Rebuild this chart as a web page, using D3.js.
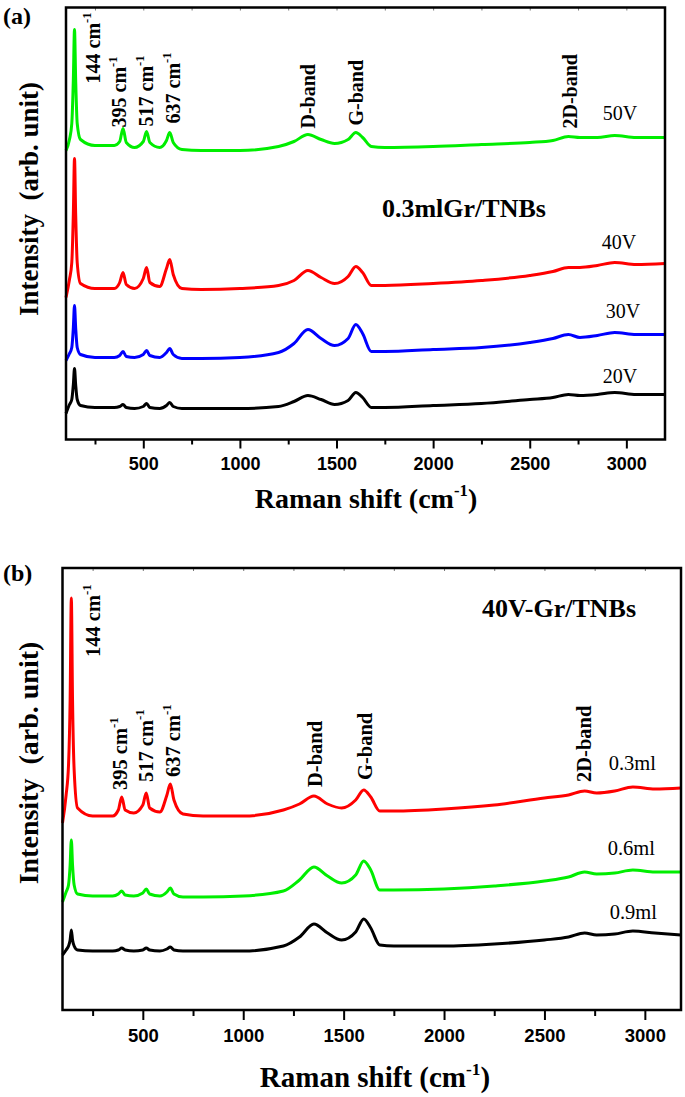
<!DOCTYPE html>
<html>
<head>
<meta charset="utf-8">
<script src="https://cdn.jsdelivr.net/npm/d3@7"></script>
<style>
  html, body { margin: 0; padding: 0; background: #fff; }
  svg { display: block; }
  .serif { font-family: "Liberation Serif", "Times New Roman", serif; }
  .sans { font-family: "Liberation Sans", Arial, sans-serif; font-weight: bold; }
</style>
</head>
<body>
<svg id="chart" width="685" height="1097"></svg>
<script>
// ---------------- DATA ----------------
// Panel (a): Raman shift grid (cm-1) and intensities (arb. unit) per anodizing voltage
const shiftA = [100, 118, 130, 138, 144, 150, 158, 175, 250, 350, 378, 395, 412, 455, 500, 517, 534, 585, 620, 637, 655, 700, 800, 1000, 1200, 1280, 1352, 1420, 1490, 1560, 1600, 1635, 1680, 1750, 2000, 2250, 2500, 2620, 2700, 2760, 2850, 2940, 3050, 3200];
const int50V = [289, 300, 316, 360, 410, 360, 316, 300, 294, 294, 298, 311, 297, 292, 298, 308, 297, 292, 299, 307, 297, 290, 289, 289, 293, 298, 305, 300, 296, 300, 307, 302, 293, 292, 293, 295, 297, 299, 303, 302, 302, 304, 302, 302];
const int40V = [142, 160, 177, 226, 281, 226, 177, 156, 151, 151, 157, 167, 155, 151, 161, 172, 157, 153, 171, 180, 165, 151, 150, 151, 154, 159, 169, 162, 156, 163, 173, 167, 154, 154, 156, 159, 164, 168, 172, 172, 174, 177, 175, 176];
const int30V = [79, 86, 92, 112, 134, 112, 92, 85, 82, 82, 84, 88, 83, 82, 85, 89, 84, 82, 87, 91, 85, 81, 81, 82, 87, 96, 110, 101, 94, 101, 115, 106, 88, 88, 90, 92, 97, 101, 105, 102, 104, 107, 105, 105];
const int20V = [26, 35, 40, 55, 71, 55, 40, 34, 32, 32, 33, 35, 32, 31, 33, 36, 32, 31, 34, 37, 33, 31, 31, 31, 33, 38, 44, 40, 35, 39, 47, 42, 32, 32, 34, 36, 40, 42, 45, 44, 45, 47, 45, 45];
const seriesNamesA = ["50V", "40V", "30V", "20V"];
const seriesColorsA = ["#00ee00", "#ff0000", "#0000ff", "#000000"];

// Panel (b): 40V samples with different graphene volumes
const shiftB = [100, 118, 130, 138, 144, 150, 158, 175, 250, 350, 378, 395, 412, 455, 500, 517, 534, 585, 620, 637, 655, 700, 800, 1000, 1200, 1280, 1352, 1420, 1490, 1560, 1600, 1635, 1680, 1750, 2000, 2250, 2500, 2620, 2700, 2760, 2850, 2940, 3050, 3180];
const int03ml = [187, 215, 245, 310, 412, 310, 240, 202, 194, 194, 200, 213, 200, 197, 205, 217, 202, 198, 215, 226, 210, 196, 194, 194, 200, 206, 214, 206, 202, 210, 220, 213, 199, 199, 201, 205, 212, 215, 219, 217, 219, 223, 221, 222];
const int06ml = [108, 118, 125, 145, 170, 145, 125, 116, 114, 114, 116, 119, 115, 114, 117, 121, 116, 114, 118, 122, 116, 113, 113, 114, 119, 130, 143, 134, 127, 135, 149, 140, 120, 120, 121, 124, 129, 133, 138, 136, 137, 140, 138, 138];
const int09ml = [55, 60, 64, 70, 80, 70, 64, 60, 59, 59, 60, 62, 60, 59, 60, 62, 60, 59, 61, 63, 60, 59, 59, 59, 64, 73, 86, 77, 70, 78, 91, 82, 65, 64, 64, 66, 70, 73, 77, 75, 76, 79, 77, 75];
const seriesNamesB = ["0.3ml", "0.6ml", "0.9ml"];
const seriesColorsB = ["#ff0000", "#00ee00", "#000000"];

// Axes
const xDomainA = [100, 3200];
const xDomainB = [100, 3180];
const yMaxA = 432;
const yMaxB = 442;
const majorTicks = [500, 1000, 1500, 2000, 2500, 3000];
const minorTicks = [250, 750, 1250, 1750, 2250, 2750];
const allTicks = [250, 500, 750, 1000, 1250, 1500, 1750, 2000, 2250, 2500, 2750, 3000];

// Annotations: [text, Raman shift, intensity] anchors
const peakLabelsA = [["144 cm", 276, 356], ["395 cm", 410, 312], ["517 cm", 550, 313], ["637 cm", 690, 316], ["D-band", 1388, 311, false], ["G-band", 1636, 314, false], ["2D-band", 2744, 311, false]];
const seriesLabelPosA = [[2878, 320], [2873, 191], [2894, 122], [2878, 57]];
const titleA = ["0.3mlGr/TNBs", 1735, 223];

const peakLabelsB = [["144 cm", 286, 353], ["395 cm", 420, 220], ["517 cm", 550, 228], ["637 cm", 684, 233], ["D-band", 1394, 223, false], ["G-band", 1642, 230, false], ["2D-band", 2730, 228, false]];
const seriesLabelPosB = [[2820, 240], [2815, 155], [2825, 91]];
const titleB = ["40V-Gr/TNBs", 2189, 393];

// ---------------- DRAW ----------------
const svg = d3.select("#chart");
svg.append("rect").attr("width", 685).attr("height", 1097).attr("fill", "#fff");

function drawPanel(cfg) {
  const g = svg.append("g");
  const x = d3.scaleLinear().domain(cfg.xDomain).range([cfg.left, cfg.right]);
  const y = d3.scaleLinear().domain([0, cfg.yMax]).range([cfg.bottom, cfg.top]);
  const line = d3.line().x(d => x(d[0])).y(d => y(d[1])).curve(d3.curveMonotoneX);

  // Series
  cfg.series.forEach((s, i) => {
    g.append("path")
      .datum(cfg.shift.map((w, k) => [w, s[k]]))
      .attr("d", line)
      .attr("fill", "none")
      .attr("stroke", cfg.colors[i])
      .attr("stroke-width", 3)
      .attr("stroke-linejoin", "round");
  });

  // Bottom axis: major + minor ticks
  const axMaj = g.append("g").attr("transform", `translate(0,${cfg.bottom})`)
    .call(d3.axisBottom(x).tickValues(majorTicks).tickSize(cfg.majorLen).tickPadding(cfg.tickPad).tickFormat(d3.format("d")));
  const axMin = g.append("g").attr("transform", `translate(0,${cfg.bottom})`)
    .call(d3.axisBottom(x).tickValues(minorTicks).tickSize(cfg.minorLen).tickFormat(""));
  const axTop = g.append("g").attr("transform", `translate(0,${cfg.top})`)
    .call(d3.axisTop(x).tickValues(allTicks).tickSize(-3).tickFormat(""));
  [axMaj, axMin, axTop].forEach(a => {
    a.select(".domain").remove();
    a.selectAll(".tick line").attr("stroke", "#000").attr("stroke-width", 2);
  });
  axTop.selectAll(".tick line").attr("stroke-width", 1).attr("stroke", "#777");
  axMaj.selectAll(".tick text")
    .attr("class", "sans")
    .attr("font-size", cfg.tickFont)
    .style("font-weight", "bold")
    .attr("fill", "#000");

  // Frame
  g.append("rect")
    .attr("x", cfg.left).attr("y", cfg.top)
    .attr("width", cfg.right - cfg.left).attr("height", cfg.bottom - cfg.top)
    .attr("fill", "none").attr("stroke", "#000").attr("stroke-width", 2.5);

  // Peak labels (rotated)
  cfg.peaks.forEach(p => {
    const t = g.append("text")
      .attr("class", "serif")
      .attr("font-size", cfg.peakFont)
      .attr("font-weight", "bold")
      .attr("transform", `translate(${x(p[1])},${y(p[2])}) rotate(-90)`)
      .text(p[0]);
    if (p[3] !== false) {
      t.append("tspan").attr("font-size", cfg.peakFont * 0.62).attr("dy", -cfg.peakFont * 0.45).text("-1");
    }
  });

  // Series labels
  cfg.seriesLabels.forEach((pos, i) => {
    g.append("text")
      .attr("class", "serif")
      .attr("x", x(pos[0])).attr("y", y(pos[1]))
      .attr("font-size", cfg.seriesFont)
      .text(cfg.names[i]);
  });

  // In-plot title
  g.append("text")
    .attr("class", "serif")
    .attr("x", x(cfg.title[1])).attr("y", y(cfg.title[2]))
    .attr("font-size", cfg.titleFont)
    .attr("font-weight", "bold")
    .text(cfg.title[0]);

  // X axis title
  const xt = g.append("text")
    .attr("class", "serif")
    .attr("x", cfg.xTitle[0]).attr("y", cfg.xTitle[1])
    .attr("text-anchor", "middle")
    .attr("font-size", cfg.axisFont)
    .attr("font-weight", "bold");
  xt.append("tspan").text("Raman shift (cm");
  xt.append("tspan").attr("font-size", cfg.axisFont * 0.6).attr("dy", -cfg.axisFont * 0.42).text("-1");
  xt.append("tspan").attr("dy", cfg.axisFont * 0.42).text(")");

  // Y axis title
  g.append("text")
    .attr("class", "serif")
    .attr("transform", `translate(${cfg.yTitle[0]},${cfg.yTitle[1]}) rotate(-90)`)
    .attr("text-anchor", "middle")
    .attr("font-size", cfg.yAxisFont)
    .attr("font-weight", "bold")
    .attr("xml:space", "preserve")
    .style("white-space", "pre")
    .text("Intensity  (arb. unit)");

  // Panel letter
  g.append("text")
    .attr("class", "serif")
    .attr("x", cfg.letter[1]).attr("y", cfg.letter[2])
    .attr("font-size", 24)
    .attr("font-weight", "bold")
    .text(cfg.letter[0]);
}

drawPanel({
  left: 66, right: 665, top: 7.5, bottom: 439.5,
  xDomain: xDomainA, yMax: yMaxA,
  shift: shiftA, series: [int50V, int40V, int30V, int20V], colors: seriesColorsA,
  names: seriesNamesA, seriesLabels: seriesLabelPosA,
  peaks: peakLabelsA, title: titleA,
  tickFont: 18, majorLen: 9, minorLen: 5, tickPad: 9,
  peakFont: 20, seriesFont: 20, titleFont: 26, axisFont: 28, yAxisFont: 27,
  xTitle: [366, 508], yTitle: [38, 199], letter: ["(a)", 3, 24]
});

drawPanel({
  left: 62.5, right: 681, top: 568, bottom: 1010,
  xDomain: xDomainB, yMax: yMaxB,
  shift: shiftB, series: [int03ml, int06ml, int09ml], colors: seriesColorsB,
  names: seriesNamesB, seriesLabels: seriesLabelPosB,
  peaks: peakLabelsB, title: titleB,
  tickFont: 18.5, majorLen: 10, minorLen: 6, tickPad: 9,
  peakFont: 20.5, seriesFont: 20.5, titleFont: 26, axisFont: 29, yAxisFont: 28,
  xTitle: [375, 1087], yTitle: [38, 763], letter: ["(b)", 3, 581]
});
</script>
</body>
</html>
